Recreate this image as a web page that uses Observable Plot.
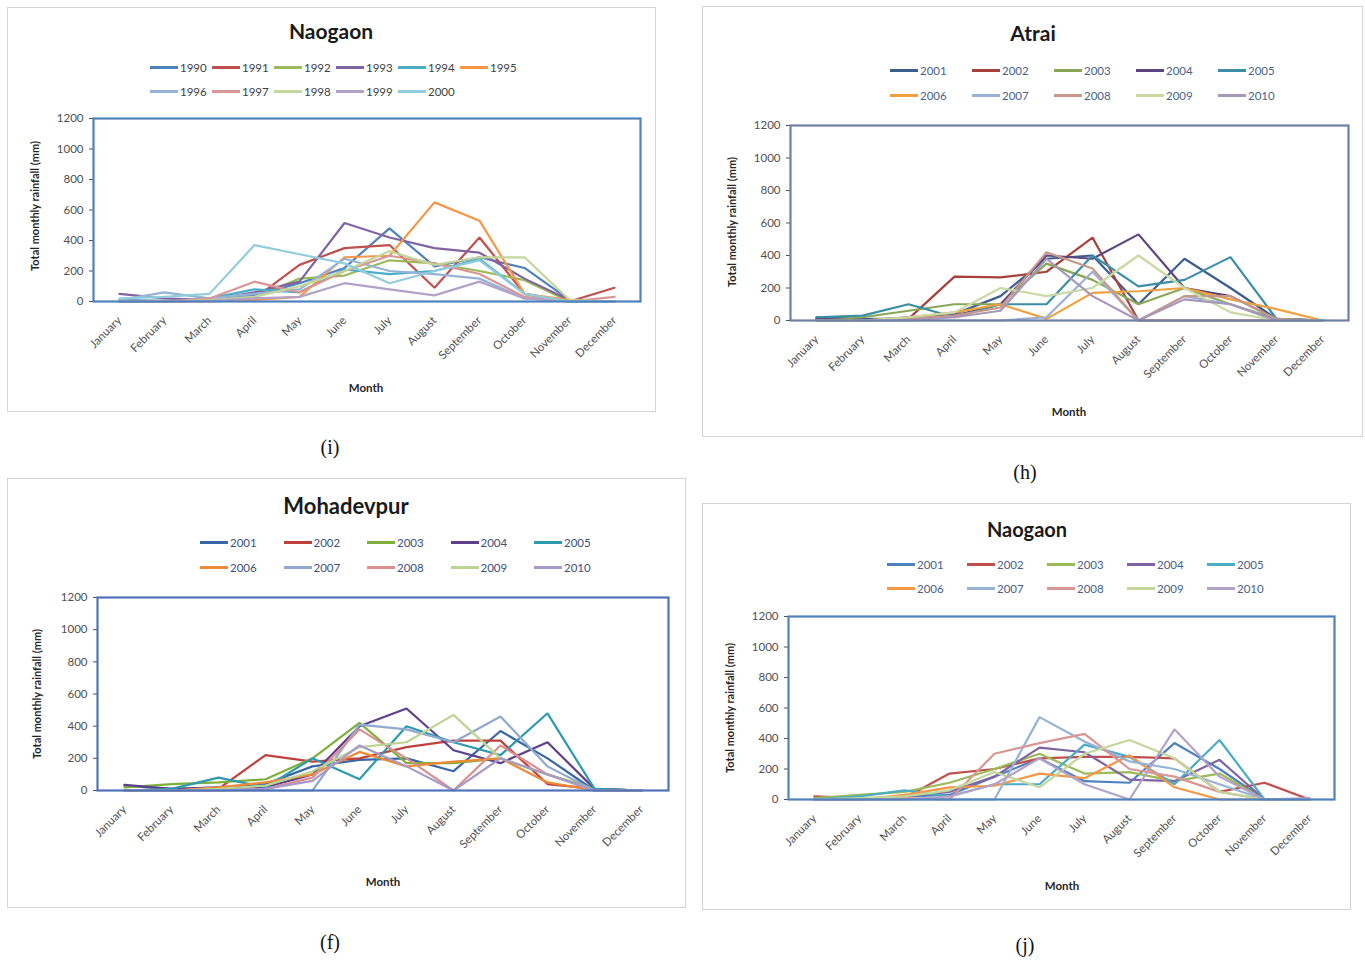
<!DOCTYPE html>
<html>
<head>
<meta charset="utf-8">
<script src="https://cdn.jsdelivr.net/npm/d3@7"></script>
<script src="https://cdn.jsdelivr.net/npm/@observablehq/plot@0.6"></script>
<style>
  html, body { margin: 0; padding: 0; background: #fff; }
  body { width: 1365px; height: 962px; position: relative; overflow: hidden; font-family: Lato, "Open Sans", sans-serif; }
  .box { position: absolute; border: 1.5px solid #d4d4d4; box-sizing: border-box; }
  .title { position: absolute; transform: translateX(-50%); font-weight: bold; font-size: 22px; color: #1a1a1a; white-space: nowrap; }
  .ytitle { position: absolute; transform: translate(-50%, -50%) rotate(-90deg); font-weight: bold; font-size: 11px; color: #262626; white-space: nowrap; }
  .xtitle { position: absolute; transform: translateX(-50%); font-weight: bold; font-size: 11.5px; color: #262626; white-space: nowrap; }
  .cap { position: absolute; transform: translateX(-50%); font-family: "Liberation Serif", "DejaVu Serif", serif; font-size: 20px; color: #111; }
  .leg { position: absolute; display: flex; align-items: center; font-size: 11.5px; white-space: nowrap; }
  .leg span.sw { display: inline-block; width: 28px; height: 2.5px; margin-right: 2px; }
</style>
</head>
<body>
<script>
// ---------- data ----------
const months = ["January","February","March","April","May","June","July","August","September","October","November","December"];
const yTicks = [0, 200, 400, 600, 800, 1000, 1200];

// (i) Naogaon 1990-2000
const naogaonOldYears = ["1990","1991","1992","1993","1994","1995","1996","1997","1998","1999","2000"];
const naogaonOldValues = [
  [10, 5, 10, 40, 120, 220, 480, 230, 290, 220, 10, 0],
  [0, 0, 5, 20, 240, 350, 370, 90, 420, 50, 0, 90],
  [0, 0, 10, 30, 150, 170, 270, 250, 200, 140, 0, 0],
  [50, 20, 10, 60, 130, 515, 420, 350, 320, 150, 10, 0],
  [0, 0, 20, 80, 60, 210, 180, 200, 280, 50, 0, 0],
  [0, 0, 0, 10, 30, 290, 300, 650, 530, 50, 10, 0],
  [10, 60, 20, 50, 80, 280, 200, 180, 150, 20, 0, 0],
  [0, 0, 20, 130, 60, 200, 300, 250, 180, 30, 0, 30],
  [0, 0, 10, 30, 100, 200, 330, 240, 290, 290, 10, 0],
  [0, 0, 5, 20, 30, 120, 80, 40, 130, 20, 0, 0],
  [20, 30, 50, 370, 310, 250, 120, 200, 270, 50, 0, 0]
];

// (h) Atrai 2001-2010
const recentYears = ["2001","2002","2003","2004","2005","2006","2007","2008","2009","2010"];
const atraiValues = [
  [20, 10, 10, 40, 150, 380, 400, 100, 380, 200, 10, 0],
  [10, 0, 10, 270, 265, 300, 510, 0, 0, 0, 0, 0],
  [0, 20, 60, 100, 100, 350, 250, 100, 200, 100, 10, 0],
  [10, 0, 20, 30, 100, 400, 380, 530, 200, 150, 10, 0],
  [20, 30, 100, 20, 100, 100, 400, 210, 250, 390, 10, 0],
  [0, 0, 20, 50, 100, 10, 170, 180, 200, 130, 70, 0],
  [0, 0, 0, 0, 0, 20, 300, 0, 150, 100, 0, 0],
  [0, 0, 10, 30, 80, 420, 320, 0, 150, 150, 10, 0],
  [0, 0, 20, 50, 200, 150, 200, 400, 200, 50, 0, 0],
  [0, 0, 0, 20, 60, 380, 150, 0, 130, 100, 0, 0]
];

// (f) Mohadevpur 2001-2010
const mohadevpurValues = [
  [30, 10, 10, 40, 150, 190, 200, 120, 370, 200, 0, 0],
  [0, 0, 10, 220, 180, 200, 270, 310, 310, 40, 10, 0],
  [20, 40, 50, 70, 200, 420, 170, 170, 200, 100, 10, 0],
  [35, 10, 20, 20, 100, 400, 510, 250, 170, 300, 10, 0],
  [0, 10, 80, 20, 200, 70, 400, 300, 220, 480, 10, 0],
  [0, 0, 20, 50, 100, 240, 150, 180, 200, 50, 0, 0],
  [0, 0, 0, 0, 0, 410, 380, 300, 460, 150, 0, 0],
  [0, 0, 0, 10, 80, 380, 200, 0, 280, 100, 0, 0],
  [0, 0, 10, 30, 120, 270, 300, 470, 200, 100, 0, 0],
  [0, 0, 0, 10, 60, 280, 150, 0, 200, 100, 0, 0]
];

// (j) Naogaon 2001-2010
const naogaonNewValues = [
  [10, 0, 20, 30, 150, 270, 120, 110, 370, 200, 0, 0],
  [20, 10, 10, 170, 200, 270, 280, 280, 270, 50, 110, 0],
  [10, 30, 50, 110, 200, 300, 170, 180, 120, 170, 0, 0],
  [0, 0, 20, 50, 150, 340, 310, 130, 120, 260, 0, 0],
  [0, 20, 60, 20, 100, 100, 360, 280, 100, 390, 0, 0],
  [0, 0, 30, 80, 90, 170, 140, 290, 80, 0, 0, 0],
  [0, 0, 0, 0, 0, 540, 380, 250, 200, 100, 0, 0],
  [0, 0, 10, 0, 300, 370, 430, 200, 150, 50, 0, 0],
  [0, 10, 20, 60, 180, 80, 300, 390, 270, 50, 0, 0],
  [0, 0, 0, 20, 100, 270, 100, 0, 460, 150, 0, 10]
];

// ---------- colours ----------
const excelColors = ["#4F81BD","#C0504D","#9BBB59","#8064A2","#4BACC6","#F79646","#95B3D7","#D99694","#C3D69B","#B3A2C7","#93CDDD"];
const mutedColors = ["#3B5E8F","#A8403C","#8AA656","#5D4680","#3A8EA5","#F0A03C","#9AB1D6","#C7998A","#C9D9A3","#A697B8"];
const midColors = ["#3767A8","#C0403C","#7FAF3A","#5D3F8C","#2E9AAF","#EE8A35","#8FA9D0","#D9908E","#BCD493","#A999C9"];

// ---------- drawing ----------
function addDiv(cls, text, x, y, extra) {
  const d = document.createElement("div");
  d.className = cls;
  d.textContent = text;
  d.style.left = x + "px";
  d.style.top = y + "px";
  if (extra) Object.assign(d.style, extra);
  document.body.appendChild(d);
  return d;
}

function panel(cfg) {
  const box = document.createElement("div");
  box.className = "box";
  Object.assign(box.style, {left: cfg.box[0] + "px", top: cfg.box[1] + "px", width: cfg.box[2] + "px", height: cfg.box[3] + "px"});
  document.body.appendChild(box);

  addDiv("title", cfg.title, cfg.titlePos[0], cfg.titlePos[1], {fontSize: cfg.titleSize + "px"});

  cfg.years.forEach((yr, i) => {
    const row = Math.floor(i / cfg.perRow), col = i % cfg.perRow;
    const d = document.createElement("div");
    d.className = "leg";
    d.style.left = (cfg.legX + col * cfg.legStep) + "px";
    d.style.top = (cfg.legY + row * cfg.legRowGap) + "px";
    d.style.color = cfg.legColor;
    const sw = document.createElement("span");
    sw.className = "sw";
    sw.style.background = cfg.colors[i];
    const t = document.createElement("span");
    t.textContent = yr;
    d.appendChild(sw); d.appendChild(t);
    document.body.appendChild(d);
  });

  const data = cfg.years.flatMap((yr, i) => cfg.values[i].map((v, j) => ({month: months[j], year: yr, value: v})));
  const [fx0, fy0, fx1, fy1] = cfg.frame;
  const sx = cfg.svgPos[0], sy = cfg.svgPos[1];
  const ml = fx0 - sx, mt = fy0 - sy, mr = 12, mb = cfg.mb;
  const svg = Plot.plot({
    width: ml + (fx1 - fx0) + mr,
    height: mt + (fy1 - fy0) + mb,
    marginLeft: ml, marginTop: mt, marginRight: mr, marginBottom: mb,
    style: {fontFamily: "Lato, 'Open Sans', sans-serif", fontSize: "11.5px", color: "#505050", background: "transparent", overflow: "visible"},
    x: {type: "point", domain: months, padding: 0.5, label: null, tickRotate: -45, tickSize: 0, tickPadding: 17},
    y: {domain: [0, 1200], ticks: yTicks, tickFormat: d => String(d), label: null, tickSize: 4, tickPadding: 6},
    color: {type: "ordinal", domain: cfg.years, range: cfg.colors},
    marks: [
      Plot.line(data, {x: "month", y: "value", z: "year", stroke: "year", strokeWidth: 2.2, strokeLinejoin: "miter"}),
      Plot.frame({stroke: cfg.frameColor, strokeWidth: 2.2})
    ]
  });
  svg.style.position = "absolute";
  svg.style.left = sx + "px";
  svg.style.top = sy + "px";
  document.body.appendChild(svg);

  addDiv("ytitle", "Total monthly rainfall (mm)", cfg.yTitlePos[0], cfg.yTitlePos[1]);
  addDiv("xtitle", "Month", cfg.xTitlePos[0], cfg.xTitlePos[1]);
  addDiv("cap", cfg.caption, cfg.capPos[0], cfg.capPos[1]);
}

panel({
  title: "Naogaon", titlePos: [331, 18], titleSize: 21,
  box: [7, 7, 649, 405],
  years: naogaonOldYears, values: naogaonOldValues, colors: excelColors,
  perRow: 6, legX: 150, legStep: 62, legY: 61, legRowGap: 24, legColor: "#404040",
  frame: [93, 118, 640, 301], svgPos: [20, 108], mb: 95,
  frameColor: "#4F81BD",
  yTitlePos: [34, 206], xTitlePos: [366, 381], caption: "(i)", capPos: [330, 436]
});

panel({
  title: "Atrai", titlePos: [1033, 20], titleSize: 21,
  box: [702, 6, 661, 431],
  years: recentYears, values: atraiValues, colors: mutedColors,
  perRow: 5, legX: 890, legStep: 82, legY: 64, legRowGap: 25, legColor: "#4a5f8a",
  frame: [790, 125, 1348, 320], svgPos: [720, 115], mb: 100,
  frameColor: "#6F7FA3",
  yTitlePos: [731, 222], xTitlePos: [1069, 405], caption: "(h)", capPos: [1025, 461]
});

panel({
  title: "Mohadevpur", titlePos: [346, 492], titleSize: 22,
  box: [7, 478, 679, 430],
  years: recentYears, values: mohadevpurValues, colors: midColors,
  perRow: 5, legX: 200, legStep: 83.5, legY: 536, legRowGap: 25, legColor: "#3d4f7a",
  frame: [97, 597, 668, 790], svgPos: [25, 587], mb: 100,
  frameColor: "#4F72B8",
  yTitlePos: [36, 694], xTitlePos: [383, 875], caption: "(f)", capPos: [330, 931]
});

panel({
  title: "Naogaon", titlePos: [1027, 517], titleSize: 20,
  box: [702, 503, 649, 407],
  years: recentYears, values: naogaonNewValues, colors: excelColors,
  perRow: 5, legX: 887, legStep: 80, legY: 558, legRowGap: 24, legColor: "#4a5f8a",
  frame: [788, 616, 1334, 799], svgPos: [715, 606], mb: 100,
  frameColor: "#4F81BD",
  yTitlePos: [729, 708], xTitlePos: [1062, 879], caption: "(j)", capPos: [1025, 934]
});
</script>
</body>
</html>
